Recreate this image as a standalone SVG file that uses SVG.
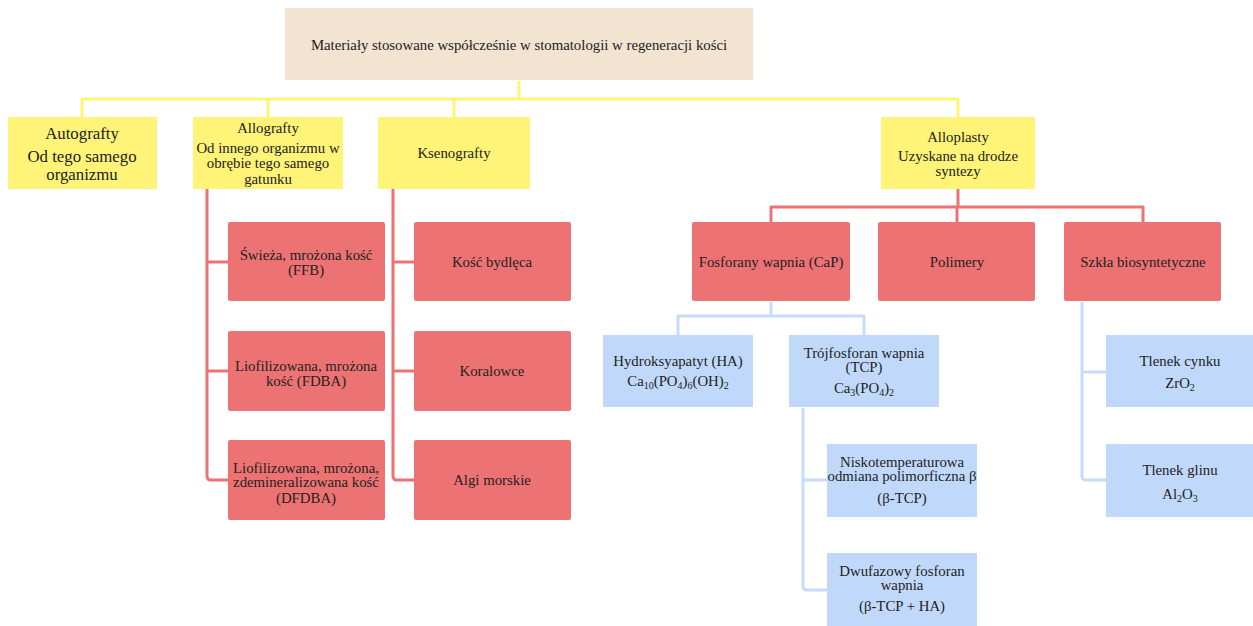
<svg xmlns="http://www.w3.org/2000/svg" width="1253" height="626" viewBox="0 0 1253 626">
<style>
text{font-family:"Liberation Serif","DejaVu Serif",serif;font-size:14.8px;fill:#222;text-anchor:middle}
.big{font-size:16.8px}
.top{fill:#F3E3D1}
.y{fill:#FFF378}
.r{fill:#ED7273}
.b{fill:#C0D9FA}
.cy{stroke:#FFF378}
.cr{stroke:#ED7273}
.cb{stroke:#C6DCF9}
#connectors path{fill:none;stroke-width:3;stroke-linejoin:round}
</style>
<rect width="1253" height="626" fill="#fff"/>
<g id="connectors">
<path class="cy" d="M519 81 V99"/>
<path class="cy" d="M82 117 V99 H958 V117"/>
<path class="cy" d="M268 99 V117"/>
<path class="cy" d="M454 99 V117"/>
<path class="cr" d="M207 189 V476 Q207 480 211 480 H228"/>
<path class="cr" d="M207 262 H228"/>
<path class="cr" d="M207 371 H228"/>
<path class="cr" d="M393 189 V476 Q393 480 397 480 H414"/>
<path class="cr" d="M393 262 H414"/>
<path class="cr" d="M393 371 H414"/>
<path class="cr" d="M958 189 V207"/>
<path class="cr" d="M771 222 V207 H1143 V222"/>
<path class="cr" d="M957 207 V222"/>
<path class="cb" d="M771 302 V316"/>
<path class="cb" d="M678 335 V316 H864 V335"/>
<path class="cb" d="M803 408 V586 Q803 590 807 590 H827"/>
<path class="cb" d="M803 480 H827"/>
<path class="cb" d="M1082 302 V476 Q1082 480 1086 480 H1106"/>
<path class="cb" d="M1082 372 H1106"/>
</g>
<g id="root"><rect class="top" x="285" y="8" width="468" height="72"/><text x="519" y="50">Materiały stosowane współcześnie w stomatologii w regeneracji kości</text></g>
<g id="autografty"><rect class="y" x="8" y="117" width="149" height="72"/><text class="big" x="82" y="139">Autografty</text><text class="big" x="82" y="162">Od tego samego</text><text class="big" x="82" y="180">organizmu</text></g>
<g id="allografty"><rect class="y" x="193" y="117" width="150" height="72"/><text x="268" y="133">Allografty</text><text x="268" y="153">Od innego organizmu w</text><text x="268" y="168">obrębie tego samego</text><text x="268" y="184">gatunku</text></g>
<g id="ksenografty"><rect class="y" x="378" y="117" width="152" height="72"/><text x="454" y="158">Ksenografty</text></g>
<g id="alloplasty"><rect class="y" x="881" y="117" width="154" height="72"/><text x="958" y="142">Alloplasty</text><text x="958" y="161">Uzyskane na drodze</text><text x="958" y="176">syntezy</text></g>
<g id="ffb"><rect class="r" x="228" y="222" width="157" height="79" rx="2"/><text x="306" y="260">Świeża, mrożona kość</text><text x="306" y="275">(FFB)</text></g>
<g id="fdba"><rect class="r" x="228" y="331" width="157" height="80" rx="2"/><text x="306" y="371">Liofilizowana, mrożona</text><text x="306" y="386">kość (FDBA)</text></g>
<g id="dfdba"><rect class="r" x="228" y="440" width="157" height="80" rx="2"/><text x="306" y="473">Liofilizowana, mrożona,</text><text x="306" y="487">zdemineralizowana kość</text><text x="306" y="503">(DFDBA)</text></g>
<g id="kosc-bydleca"><rect class="r" x="414" y="222" width="157" height="79" rx="2"/><text x="492" y="267">Kość bydlęca</text></g>
<g id="koralowce"><rect class="r" x="414" y="331" width="157" height="80" rx="2"/><text x="492" y="376">Koralowce</text></g>
<g id="algi"><rect class="r" x="414" y="440" width="157" height="80" rx="2"/><text x="492" y="485">Algi morskie</text></g>
<g id="cap"><rect class="r" x="692" y="222" width="158" height="79" rx="2"/><text x="771" y="267">Fosforany wapnia (CaP)</text></g>
<g id="polimery"><rect class="r" x="878" y="222" width="157" height="79" rx="2"/><text x="957" y="267">Polimery</text></g>
<g id="szkla"><rect class="r" x="1064" y="222" width="157" height="79" rx="2"/><text x="1143" y="267">Szkła biosyntetyczne</text></g>
<g id="ha"><rect class="b" x="603" y="335" width="150" height="72"/><text x="678" y="366">Hydroksyapatyt (HA)</text><text x="678" y="386">Ca<tspan font-size="10" dy="3">10</tspan><tspan dy="-3">(PO</tspan><tspan font-size="10" dy="3">4</tspan><tspan dy="-3">)</tspan><tspan font-size="10" dy="3">6</tspan><tspan dy="-3">(OH)</tspan><tspan font-size="10" dy="3">2</tspan></text></g>
<g id="tcp"><rect class="b" x="789" y="335" width="150" height="72"/><text x="864" y="358">Trójfosforan wapnia</text><text x="864" y="372">(TCP)</text><text x="864" y="393">Ca<tspan font-size="10" dy="3">3</tspan><tspan dy="-3">(PO</tspan><tspan font-size="10" dy="3">4</tspan><tspan dy="-3">)</tspan><tspan font-size="10" dy="3">2</tspan></text></g>
<g id="zro2"><rect class="b" x="1106" y="335" width="147" height="72"/><text x="1180" y="366">Tlenek cynku</text><text x="1180" y="388">ZrO<tspan font-size="10" dy="3">2</tspan></text></g>
<g id="btcp"><rect class="b" x="827" y="444" width="150" height="73"/><text x="902" y="467">Niskotemperaturowa</text><text x="902" y="481">odmiana polimorficzna β</text><text x="902" y="503">(β-TCP)</text></g>
<g id="bcp"><rect class="b" x="827" y="553" width="150" height="73"/><text x="902" y="576">Dwufazowy fosforan</text><text x="902" y="590">wapnia</text><text x="902" y="611">(β-TCP + HA)</text></g>
<g id="al2o3"><rect class="b" x="1106" y="444" width="147" height="73"/><text x="1180" y="475">Tlenek glinu</text><text x="1180" y="499">Al<tspan font-size="10" dy="3">2</tspan><tspan dy="-3">O</tspan><tspan font-size="10" dy="3">3</tspan></text></g>
</svg>
